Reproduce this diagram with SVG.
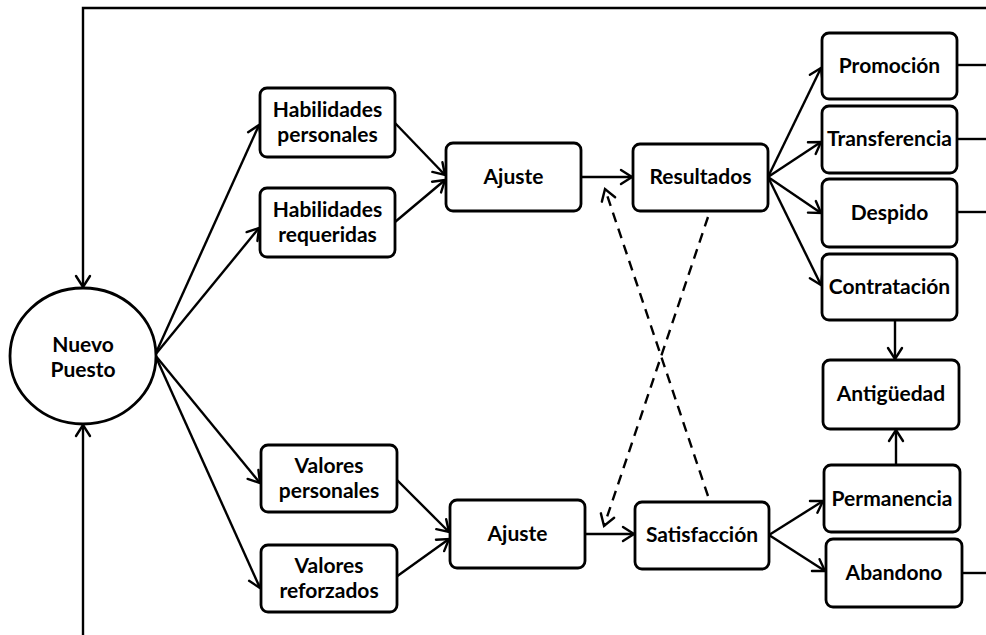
<svg xmlns="http://www.w3.org/2000/svg" width="986" height="635" viewBox="0 0 986 635">
  <defs>
    <style>
      .box { fill: #fff; stroke: #000; stroke-width: 2.8; }
      .lbl { font-family: Lato, "Open Sans", "Liberation Sans", sans-serif; font-weight: bold; font-size: 21px; fill: #000; text-anchor: middle; }
      .ln { fill: none; stroke: #000; stroke-width: 2.4; }
      .arr { marker-end: url(#vhead); }
      .dash { stroke-dasharray: 10 7; }
    </style>
    <marker id="vhead" markerUnits="userSpaceOnUse" markerWidth="16" markerHeight="18" viewBox="-13 -9 16 18" refX="0" refY="0" orient="auto">
      <path d="M-11,-7 L0,0 L-11,7" fill="none" stroke="#000" stroke-width="2.4" stroke-linecap="round" stroke-linejoin="miter"/>
    </marker>
  </defs>
  <rect width="986" height="635" fill="#fff"/>

  <g id="connectors">
    <!-- feedback loop over the top and up from the bottom -->
    <polyline class="ln arr" points="986,8 83,8 83,287"/>
    <line class="ln arr" x1="83" y1="635" x2="83" y2="425"/>
    <!-- fan out of the new position -->
    <line class="ln arr" x1="155" y1="355" x2="259" y2="125"/>
    <line class="ln arr" x1="155" y1="355" x2="259" y2="228"/>
    <line class="ln arr" x1="155" y1="355" x2="260" y2="483"/>
    <line class="ln arr" x1="155" y1="355" x2="260" y2="588"/>
    <!-- skills into fit -->
    <line class="ln arr" x1="395" y1="123" x2="445" y2="175"/>
    <line class="ln arr" x1="395" y1="222" x2="445" y2="180"/>
    <line class="ln arr" x1="581" y1="177" x2="632" y2="177"/>
    <!-- values into fit -->
    <line class="ln arr" x1="396" y1="479" x2="449" y2="532"/>
    <line class="ln arr" x1="396" y1="577" x2="449" y2="539"/>
    <line class="ln arr" x1="585" y1="534" x2="634" y2="534"/>
    <!-- cross effects -->
    <line class="ln arr dash" x1="708" y1="217" x2="604" y2="526"/>
    <line class="ln arr dash" x1="708" y1="496" x2="605" y2="189"/>
    <!-- outcomes of results -->
    <line class="ln arr" x1="768" y1="177" x2="821" y2="68"/>
    <line class="ln arr" x1="768" y1="177" x2="821" y2="142"/>
    <line class="ln arr" x1="768" y1="177" x2="821" y2="213"/>
    <line class="ln arr" x1="768" y1="177" x2="821" y2="285"/>
    <!-- outcomes of satisfaction -->
    <line class="ln arr" x1="769" y1="535" x2="823" y2="501"/>
    <line class="ln arr" x1="769" y1="535" x2="825" y2="571"/>
    <!-- seniority -->
    <line class="ln arr" x1="895" y1="321" x2="895" y2="359"/>
    <line class="ln arr" x1="896" y1="465" x2="896" y2="430"/>
    <!-- exits to the right -->
    <line class="ln" x1="957" y1="65" x2="986" y2="65"/>
    <line class="ln" x1="957" y1="139" x2="986" y2="139"/>
    <line class="ln" x1="957" y1="212" x2="986" y2="212"/>
    <line class="ln" x1="962" y1="573" x2="986" y2="573"/>
  </g>

  <g id="nuevo-puesto">
    <ellipse class="box" cx="83" cy="356" rx="73" ry="68"/>
    <text class="lbl" x="83" y="352">Nuevo</text>
    <text class="lbl" x="83" y="377">Puesto</text>
  </g>

  <g id="habilidades-personales">
    <rect class="box" x="260" y="88" width="135" height="69" rx="7"/>
    <text class="lbl" x="327.5" y="117">Habilidades</text>
    <text class="lbl" x="327.5" y="142">personales</text>
  </g>
  <g id="habilidades-requeridas">
    <rect class="box" x="260" y="188" width="135" height="69" rx="7"/>
    <text class="lbl" x="327.5" y="217">Habilidades</text>
    <text class="lbl" x="327.5" y="242">requeridas</text>
  </g>
  <g id="valores-personales">
    <rect class="box" x="261" y="445" width="136" height="67" rx="7"/>
    <text class="lbl" x="329" y="473">Valores</text>
    <text class="lbl" x="329" y="498">personales</text>
  </g>
  <g id="valores-reforzados">
    <rect class="box" x="261" y="545" width="136" height="67" rx="7"/>
    <text class="lbl" x="329" y="573">Valores</text>
    <text class="lbl" x="329" y="598">reforzados</text>
  </g>

  <g id="ajuste-habilidades">
    <rect class="box" x="446" y="143" width="135" height="68" rx="7"/>
    <text class="lbl" x="513.5" y="184">Ajuste</text>
  </g>
  <g id="ajuste-valores">
    <rect class="box" x="450" y="500" width="135" height="68" rx="7"/>
    <text class="lbl" x="517.5" y="541">Ajuste</text>
  </g>
  <g id="resultados">
    <rect class="box" x="633" y="144" width="135" height="67" rx="7"/>
    <text class="lbl" x="700.5" y="184">Resultados</text>
  </g>
  <g id="satisfaccion">
    <rect class="box" x="635" y="502" width="134" height="67" rx="7"/>
    <text class="lbl" x="702" y="542">Satisfacción</text>
  </g>

  <g id="promocion">
    <rect class="box" x="822" y="33" width="135" height="66" rx="7"/>
    <text class="lbl" x="889.5" y="73">Promoción</text>
  </g>
  <g id="transferencia">
    <rect class="box" x="822" y="106" width="135" height="67" rx="7"/>
    <text class="lbl" x="889.5" y="146">Transferencia</text>
  </g>
  <g id="despido">
    <rect class="box" x="822" y="179" width="135" height="68" rx="7"/>
    <text class="lbl" x="889.5" y="220">Despido</text>
  </g>
  <g id="contratacion">
    <rect class="box" x="822" y="254" width="135" height="66" rx="7"/>
    <text class="lbl" x="889.5" y="294">Contratación</text>
  </g>
  <g id="antiguedad">
    <rect class="box" x="823" y="360" width="136" height="69" rx="7"/>
    <text class="lbl" x="891" y="401">Antigüedad</text>
  </g>
  <g id="permanencia">
    <rect class="box" x="824" y="465" width="136" height="67" rx="7"/>
    <text class="lbl" x="892" y="506">Permanencia</text>
  </g>
  <g id="abandono">
    <rect class="box" x="826" y="539" width="136" height="68" rx="7"/>
    <text class="lbl" x="894" y="580">Abandono</text>
  </g>
</svg>
